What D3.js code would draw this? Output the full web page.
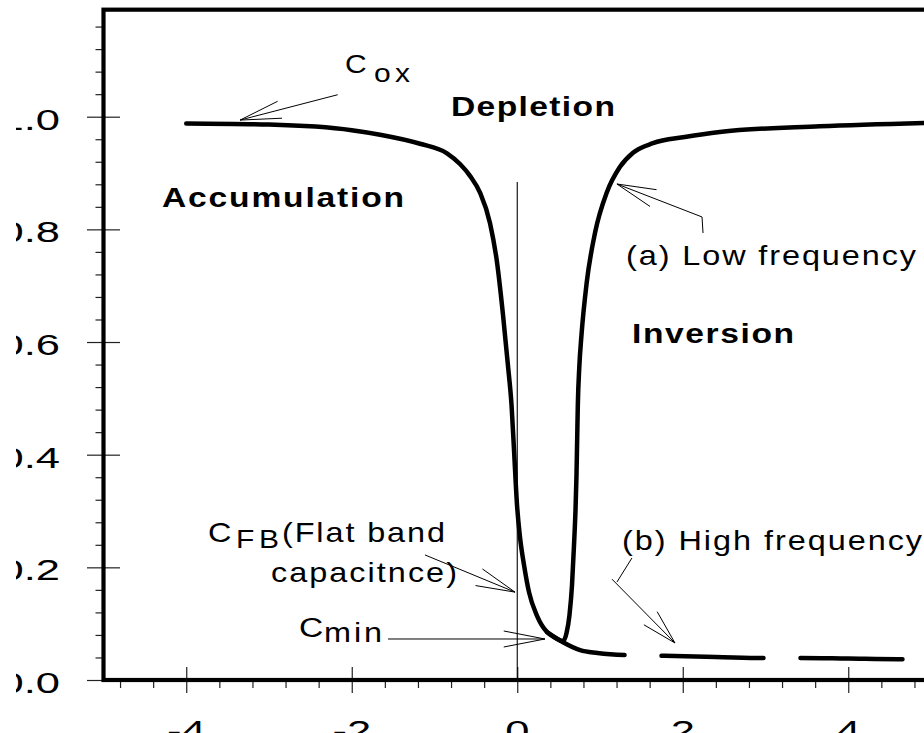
<!DOCTYPE html>
<html>
<head>
<meta charset="utf-8">
<script src="https://cdn.jsdelivr.net/npm/d3@7"></script>
<style>
  html, body { margin: 0; padding: 0; background: #fff; }
  svg { display: block; }
</style>
</head>
<body>
<script>
// MOS capacitor C–V characteristic: normalised capacitance C/Cox vs gate bias (V)

// (a) low-frequency curve
const lowFreqBias = [-4.00, -3.00, -2.00, -1.658, -1.175, -0.849, -0.692, -0.571, -0.450,
  -0.329, -0.245, -0.172, -0.112, -0.069, -0.039, -0.003, 0.033, 0.082, 0.142, 0.239, 0.360,
  0.456, 0.553, 0.595, 0.631, 0.662, 0.686, 0.704, 0.716, 0.724, 0.732, 0.750, 0.776, 0.839,
  0.940, 1.081, 1.242, 1.399, 1.640, 2.024, 2.447, 3.656, 4.916];
const lowFreqCap = [0.988, 0.986, 0.976, 0.968, 0.952, 0.935, 0.916, 0.895, 0.865,
  0.811, 0.742, 0.648, 0.558, 0.488, 0.408, 0.311, 0.254, 0.204, 0.156, 0.114, 0.085,
  0.075, 0.069, 0.083, 0.115, 0.169, 0.240, 0.302, 0.364, 0.426, 0.488, 0.556, 0.612, 0.705,
  0.794, 0.865, 0.911, 0.936, 0.953, 0.964, 0.973, 0.983, 0.989];

// (b) high-frequency branch, where it leaves the low-frequency curve
const highFreqBias = [0.36, 0.553, 0.76, 0.97, 1.33, 1.72, 2.4, 3.0, 3.4, 4.0, 4.6, 4.9];
const highFreqCap = [0.085, 0.067, 0.053, 0.048, 0.044, 0.043, 0.041, 0.039, 0.039, 0.038, 0.037, 0.037];

// axis ticks
const yTickValues = [0, 0.2, 0.4, 0.6, 0.8, 1.0];
const yTickLabels = ["0.0", "0.2", "0.4", "0.6", "0.8", "1.0"];
const xTickValues = [-4, -2, 0, 2, 4];
const xTickLabels = ["-4", "-2", "0", "2", "4"];

const W = 924, H = 733;
const FONT = "'Liberation Sans', Arial, Helvetica, sans-serif";

const x = d3.scaleLinear().domain([-5, 5]).range([103.5, 931]);
const y = d3.scaleLinear().domain([0, 1]).range([680, 116.7]);
const yMax = 1.19;

const svg = d3.select("body").append("svg")
  .attr("width", W).attr("height", H)
  .style("background", "#fff");

// the figure's left margin is trimmed, so the leading digits are partly cut
svg.append("defs").append("clipPath").attr("id", "left-trim")
  .append("rect").attr("x", 16).attr("y", 0).attr("width", W).attr("height", H);

function styleTicks(g, w) {
  g.select(".domain").remove();
  g.selectAll("line").attr("stroke", "#222").attr("stroke-width", w);
  g.selectAll("text").remove();
}

// ---- y axis ticks ----
const yMinor = d3.range(1, 30).filter(i => i % 5).map(i => i * 0.04);
svg.append("g").attr("transform", `translate(${x(-5)},0)`)
  .call(d3.axisLeft(y).tickValues(yTickValues).tickSize(16.5))
  .call(g => styleTicks(g, 1.2));
svg.append("g").attr("transform", `translate(${x(-5)},0)`)
  .call(d3.axisRight(y).tickValues(yTickValues).tickSize(16.5))
  .call(g => styleTicks(g, 1.2));
svg.append("g").attr("transform", `translate(${x(-5)},0)`)
  .call(d3.axisLeft(y).tickValues(yMinor).tickSize(8))
  .call(g => styleTicks(g, 1.2));

// ---- x axis ticks ----
const xMinor = d3.range(-12, 13).filter(i => i % 5).map(i => i * 0.4);
svg.append("g").attr("transform", `translate(0,${y(0)})`)
  .call(d3.axisBottom(x).tickValues(xTickValues).tickSize(13))
  .call(g => styleTicks(g, 1.2));
svg.append("g").attr("transform", `translate(0,${y(0)})`)
  .call(d3.axisTop(x).tickValues(xTickValues).tickSize(13))
  .call(g => styleTicks(g, 1.2));
svg.append("g").attr("transform", `translate(0,${y(0)})`)
  .call(d3.axisBottom(x).tickValues(xMinor).tickSize(8))
  .call(g => styleTicks(g, 1.2));

// ---- tick labels (wide numerals) ----
const yLab = svg.append("g").attr("clip-path", "url(#left-trim)");
yLab.selectAll("g").data(yTickValues).join("g")
  .attr("transform", d => `translate(60,${y(d) + 13}) scale(1.45,1)`)
  .append("text")
  .attr("text-anchor", "end")
  .attr("font-family", FONT).attr("font-size", 30).attr("fill", "#000")
  .text((d, i) => yTickLabels[i]);

svg.append("g").selectAll("g").data(xTickValues).join("g")
  .attr("transform", d => `translate(${x(d)},740.5) scale(1.45,1)`)
  .append("text")
  .attr("text-anchor", "middle")
  .attr("font-family", FONT).attr("font-size", 30).attr("fill", "#000")
  .text((d, i) => xTickLabels[i]);

// ---- frame ----
svg.append("rect")
  .attr("x", x(-5)).attr("y", y(yMax))
  .attr("width", x(5) - x(-5)).attr("height", y(0) - y(yMax))
  .attr("fill", "none").attr("stroke", "#000").attr("stroke-width", 4.2);

// flat-band reference line at V = 0
svg.append("line")
  .attr("x1", x(0)).attr("x2", x(0))
  .attr("y1", y(0.884)).attr("y2", y(0))
  .attr("stroke", "#000").attr("stroke-width", 1.1);

// ---- curves ----
const curve = d3.line()
  .x(d => x(d[0])).y(d => y(d[1]))
  .curve(d3.curveMonotoneX);

svg.append("path")
  .attr("d", curve(lowFreqBias.map((v, i) => [v, lowFreqCap[i]])))
  .attr("fill", "none").attr("stroke", "#000").attr("stroke-width", 4.5)
  .attr("stroke-linejoin", "round").attr("stroke-linecap", "round");

svg.append("path")
  .attr("d", curve(highFreqBias.map((v, i) => [v, highFreqCap[i]])))
  .attr("fill", "none").attr("stroke", "#000").attr("stroke-width", 4.5)
  .attr("stroke-linecap", "round")
  .attr("stroke-dasharray", "102 37").attr("stroke-dashoffset", 19.5);

// ---- annotation arrows (open V heads) ----
const ann = svg.append("g").attr("fill", "none").attr("stroke", "#000").attr("stroke-width", 1);

function leader(pts) {
  ann.append("path").attr("d", d3.line()(pts.map(([a, b]) => [x(a), y(b)])));
}
function arrow(pts, headLen, headAngle) {
  const p = pts.map(([a, b]) => [x(a), y(b)]);
  ann.append("path").attr("d", d3.line()(p));
  const [tx, ty] = p[p.length - 1];
  const [sx, sy] = p[p.length - 2];
  const a = Math.atan2(sy - ty, sx - tx);
  const r = headAngle * Math.PI / 180;
  const b1 = [tx + headLen * Math.cos(a - r), ty + headLen * Math.sin(a - r)];
  const b2 = [tx + headLen * Math.cos(a + r), ty + headLen * Math.sin(a + r)];
  ann.append("path").attr("d", d3.line()([b1, [tx, ty], b2]));
}

arrow([[-2.17, 1.039], [-3.35, 0.994]], 42, 12);              // Cox
arrow([[-1.115, 0.222], [-0.027, 0.156]], 40, 13);            // CFB
arrow([[-1.562, 0.0728], [0.335, 0.0728]], 42, 11);           // Cmin
arrow([[2.245, 0.7935], [2.233, 0.822], [1.205, 0.8805]], 40, 13); // low frequency
leader([[1.386, 0.2166], [1.205, 0.174]]);                    // high frequency
arrow([[1.145, 0.179], [1.906, 0.0657]], 36, 15);

// ---- labels ----
const SX = 1.2;
function label(str, vx, vy, size, opts = {}) {
  const g = svg.append("g")
    .attr("transform", `translate(${x(vx)},${y(vy)}) scale(${SX},1)`);
  const t = g.append("text")
    .attr("font-family", FONT).attr("font-size", size)
    .attr("font-weight", opts.bold ? "bold" : "normal")
    .attr("fill", "#000").text(str);
  if (opts.width) t.attr("textLength", opts.width / SX).attr("lengthAdjust", "spacing");
}

label("C", -2.082, 1.0776, 25);
label("ox", -1.731, 1.0616, 25, { width: 36 });
label("Depletion", -0.801, 1.0012, 28, { bold: true, width: 164 });
label("Accumulation", -4.293, 0.8397, 28, { bold: true, width: 242 });
label("(a) Low frequency", 1.314, 0.7367, 27, { width: 290 });
label("Inversion", 1.387, 0.5983, 28, { bold: true, width: 162 });
label("C", -3.737, 0.245, 27);
label("FB", -3.399, 0.2343, 25, { width: 43 });
label("(Flat band", -2.843, 0.245, 27, { width: 163 });
label("capacitnce)", -2.976, 0.174, 27, { width: 186 });
label("C", -2.638, 0.0763, 28);
label("min", -2.335, 0.0675, 27, { width: 58 });
label("(b) High frequency", 1.266, 0.2308, 27, { width: 300 });
</script>
</body>
</html>
